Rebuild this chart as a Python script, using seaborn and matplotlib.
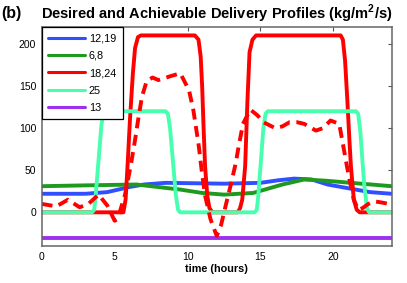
import matplotlib
matplotlib.use('Agg')
import matplotlib.pyplot as plt
import numpy as np
import pandas as pd
import seaborn as sns

# desired profile 12,19
t_blue = [0, 3, 4.5, 6, 7, 8.5, 10.5, 12.5, 15, 16.2, 17.3, 18.5, 19.6, 21.2, 22.5, 24]
v_blue = [22, 22, 24, 30, 33, 35, 34.5, 34, 35, 38, 40, 39, 33, 28, 24, 22]

# desired profile 6,8
t_green = [0, 3, 6.5, 8, 9.5, 11, 12.5, 14.5, 15.7, 16.5, 18, 19.5, 21.2, 24]
v_green = [31, 32, 33, 30, 27, 23, 21, 23, 29, 33, 39, 37.5, 35, 31]

# desired profile 18,24
t_red = [0, 5.6, 5.75, 5.9, 6.05, 6.25, 6.4, 6.6, 6.8, 10.5, 10.75, 10.9, 11.0, 11.1,
         11.2, 11.35, 11.5, 11.7, 13.45, 13.6, 13.75, 13.95, 14.1, 14.25, 14.45, 14.7,
         20.5, 20.65, 20.8, 20.95, 21.1, 21.2, 21.4, 21.6, 21.8, 24]
v_red = [0, 0, 15, 60, 110, 165, 195, 208, 210, 210, 205, 185, 150, 100,
         55, 20, 5, 0, 0, 5, 15, 55, 130, 190, 205, 210,
         210, 205, 180, 135, 85, 55, 15, 3, 0, 0]

# desired profile 25
t_aqua = [0, 3.45, 3.6, 3.7, 4.1, 4.25, 4.4, 8.5, 8.65, 8.8, 9.2, 9.35, 9.5,
          14.6, 14.75, 14.85, 15.2, 15.35, 15.5, 21.55, 21.7, 21.85, 22.1, 22.3, 22.45, 24]
v_aqua = [0, 0, 3, 20, 105, 117, 120, 120, 117, 100, 20, 3, 0,
          0, 3, 20, 100, 117, 120, 120, 117, 95, 35, 5, 0, 0]

# desired profile 13
t_purple = [0, 24]
v_purple = [-30, -30]

# achievable profile (dashed)
t_ach = [0, 1, 1.8, 2.6, 3.2, 3.9, 4.5, 5.0, 5.2, 5.7, 6.1, 6.4, 6.64, 6.87, 7.2, 7.6,
         8.0, 8.9, 9.5, 10.1, 10.4, 10.76, 11.0, 11.2, 11.57, 12.0, 12.3, 12.6, 12.94,
         13.3, 13.5, 13.8, 14.3, 14.8, 15.2, 16.0, 16.5, 17.0, 17.5, 18.0, 18.8, 19.3,
         19.8, 20.4, 20.6, 20.85, 21.1, 21.4, 21.7, 22.0, 22.4, 22.8, 23.2, 23.8, 24]
v_ach = [10, 7, 15, 6, 10, 21, 8, -10, -8, 20, 55, 86, 113, 137, 156, 160,
         157, 162, 165, 145, 121, 80, 45, 20, -8, -28, -15, 7, 31,
         58, 78, 105, 122, 115, 107, 100, 102, 107, 107, 105, 97, 100,
         109, 105, 86, 62, 39, 15, 3, 5, 10, 13, 12, 10, 12]

sns.set_style('white')
plt.rcParams['font.family'] = ['Liberation Sans', 'DejaVu Sans']
plt.rcParams['mathtext.fontset'] = 'custom'
plt.rcParams['mathtext.rm'] = 'Liberation Sans'
plt.rcParams['mathtext.bf'] = 'Liberation Sans:bold'
plt.rcParams['text.color'] = 'black'
plt.rcParams['axes.labelcolor'] = 'black'

fig = plt.figure(figsize=(4.07, 2.83), dpi=100)
ax = fig.add_axes([0.1025, 0.1307, 0.86, 0.7739])

lw = 2.8
sns.lineplot(x=t_blue, y=v_blue, color='#3050FF', linewidth=lw, label='12,19',
             sort=False, estimator=None, ax=ax)
sns.lineplot(x=t_green, y=v_green, color='#1E9B1E', linewidth=lw, label='6,8',
             sort=False, estimator=None, ax=ax)
sns.lineplot(x=t_red, y=v_red, color='#FF0000', linewidth=lw, label='18,24',
             sort=False, estimator=None, ax=ax)
sns.lineplot(x=t_aqua, y=v_aqua, color='#48FFB0', linewidth=lw, label='25',
             sort=False, estimator=None, ax=ax)
sns.lineplot(x=t_purple, y=v_purple, color='#9B30F0', linewidth=lw, label='13',
             sort=False, estimator=None, ax=ax)
sns.lineplot(x=t_ach, y=v_ach, color='#FF0000', linewidth=lw,
             sort=False, estimator=None, ax=ax)
ax.lines[-1].set_linestyle((0, (2.8, 1.7)))

ax.set_xlim(0, 24)
ax.set_ylim(-40, 220)
ax.set_xticks([0, 5, 10, 15, 20])
ax.set_yticks([0, 50, 100, 150, 200])
ax.tick_params(direction='in', top=True, right=True, length=3, width=0.8,
               color='#555555', labelcolor='black', labelsize=7.5, pad=4)
for s in ax.spines.values():
    s.set_linewidth(1.1)
    s.set_color('#666666')

ax.set_xlabel('time (hours)', fontsize=7.8, fontweight='bold', labelpad=2)
ax.set_ylabel('')
ax.set_title(r'Desired and Achievable Delivery Profiles (kg/m$^{\mathbf{2}}$/s)',
             fontsize=10.5, fontweight='bold', pad=6, color='black')
fig.text(0.003, 0.952, '(b)', fontsize=11.5, fontweight='bold', va='center')

leg = ax.legend(loc='upper left', bbox_to_anchor=(0, 1), borderaxespad=0,
                fontsize=7.8, handlelength=3.4, handletextpad=0.35,
                labelspacing=0.68, borderpad=0.6, fancybox=False,
                framealpha=1, edgecolor='black')
leg.get_frame().set_linewidth(0.9)
for h in leg.get_lines():
    h.set_linewidth(2.2)
for txt in leg.get_texts():
    txt.set_color('black')

fig.savefig('out.png', dpi=100)
plt.close(fig)
